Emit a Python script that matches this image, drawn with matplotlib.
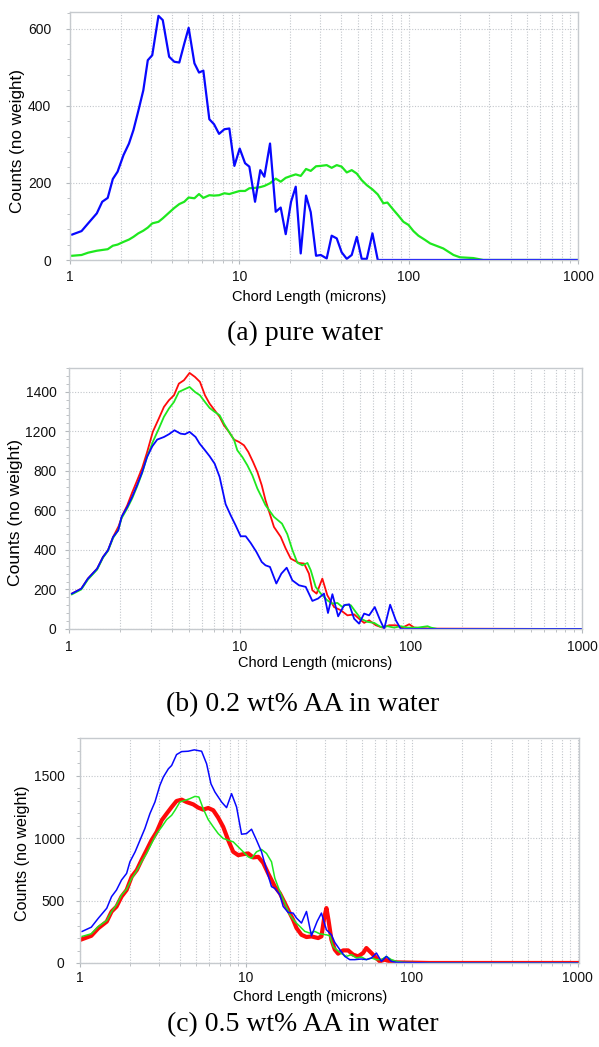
import matplotlib
matplotlib.use('Agg')
import numpy as np
import matplotlib.pyplot as plt
from matplotlib.ticker import FixedLocator, FixedFormatter, MultipleLocator, LogLocator, NullFormatter

plt.rcParams['font.family'] = ['Liberation Sans', 'DejaVu Sans']

# ---------------- (a) pure water ----------------
x_a_blue = [1.03, 1.17, 1.28, 1.44, 1.55, 1.67, 1.79, 1.91, 2.07, 2.23, 2.37, 2.53, 2.71, 2.88, 3.06,
            3.33, 3.53, 3.85, 4.13, 4.42, 4.73, 5.02, 5.43, 5.78, 6.13, 6.65, 7.09, 7.59, 8.16, 8.73,
            9.35, 10.05, 10.81, 11.46, 12.38, 13.3, 14.05, 15.18, 16.4, 17.55, 18.79, 20.2, 21.53, 23.04, 24.77,
            26.4, 28.38, 30.25, 32.8, 35.1, 37.6, 40.2, 43.1, 46.1, 49.4, 52.8, 56.6, 61.1, 65.7, 1000]
y_a_blue = [66, 75, 95, 121, 151, 161, 210, 229, 272, 302, 337, 386, 440, 518, 531,
            633, 622, 527, 514, 512, 561, 602, 510, 486, 491, 365, 352, 327, 339, 341,
            244, 289, 251, 242, 151, 233, 216, 302, 125, 136, 67, 151, 190, 17, 167,
            124, 11, 13, 4, 63, 56, 20, 3, 13, 60, 3, 3, 69, 0, 0]

x_a_green = [1.03, 1.17, 1.28, 1.44, 1.55, 1.67, 1.79, 1.91, 2.07, 2.23, 2.37, 2.53, 2.71, 2.88, 3.06,
             3.33, 3.53, 3.85, 4.13, 4.42, 4.73, 5.02, 5.43, 5.78, 6.13, 6.65, 7.09, 7.59, 8.16, 8.73,
             9.35, 10.05, 10.81, 11.46, 12.38, 13.3, 14.05, 15.18, 16.4, 17.55, 18.79, 20.2, 21.53, 23.04, 24.77,
             26.4, 28.38, 30.25, 32.8, 35.1, 37.6, 40.2, 43.1, 46.1, 49.4, 52.8, 56.6, 61.1, 65.7,
             70.9, 74.9, 81.3, 87.0, 93.1, 99.7, 106.7, 114.2, 125, 134, 160, 184, 201, 241, 276, 1000]
y_a_green = [11, 13, 19, 24, 26, 28, 37, 40, 47, 53, 60, 69, 76, 84, 95,
             99, 108, 123, 135, 145, 151, 162, 160, 171, 161, 168, 167, 168, 173, 171,
             175, 179, 179, 186, 187, 189, 192, 199, 211, 203, 213, 218, 222, 218, 236,
             231, 243, 244, 246, 239, 246, 242, 227, 233, 224, 207, 194, 183, 170,
             147, 149, 130, 115, 99, 91, 75, 63, 52, 43, 30, 13, 7, 5, 0, 0]

# ---------------- (b) 0.2 wt% AA ----------------
x_b_blue = [1.04, 1.18, 1.29, 1.46, 1.58, 1.69, 1.81, 1.94, 2.03, 2.19, 2.34, 2.50, 2.68, 2.86, 3.07,
            3.28, 3.59, 3.84, 4.14, 4.49, 4.76, 5.07, 5.50, 5.80, 6.24, 6.64, 7.11, 7.60, 8.24, 8.82,
            9.43, 10.09, 10.8, 11.55, 12.47, 13.4, 14.1, 14.97, 16.31, 17.45, 18.75, 20.24, 22.14, 24.23, 26.5,
            28.6, 31.0, 32.7, 34.7, 37.5, 40.6, 43.5, 46.5, 49.7, 53.2, 56.9, 61.4, 66.0, 69.7, 75.5,
            81.5, 87.2, 1000]
y_b_blue = [179, 204, 255, 305, 364, 398, 465, 499, 567, 617, 668, 727, 794, 870, 924,
            958, 971, 985, 1005, 988, 985, 997, 971, 938, 904, 874, 836, 769, 631, 575,
            524, 469, 469, 435, 390, 339, 322, 314, 230, 280, 310, 246, 221, 213, 142,
            154, 179, 81, 176, 64, 120, 125, 52, 27, 78, 69, 111, 44, 1, 123,
            44, 0, 0]

x_b_red = [1.04, 1.18, 1.29, 1.46, 1.58, 1.69, 1.81, 1.95, 2.06, 2.19, 2.34, 2.50, 2.68, 2.86, 3.09,
           3.35, 3.59, 3.84, 4.11, 4.39, 4.70, 5.07, 5.45, 5.83, 6.24, 6.64, 7.11, 7.60, 8.06, 8.62,
           9.22, 9.87, 10.55, 11.19, 11.92, 12.64, 13.4, 14.1, 15.8, 17.3, 18.5, 19.8, 22.14, 23.7, 25.3,
           26.5, 28.05, 30.3, 32.4, 35.5, 38.8, 42.5, 46.5, 49.7, 53.2, 56.9, 62.3, 68.1, 74.6, 81.5,
           89.2, 97.6, 104.4, 130.9, 1000]
y_b_red = [179, 204, 255, 305, 364, 398, 465, 520, 578, 625, 690, 750, 815, 893, 997,
           1064, 1123, 1157, 1182, 1241, 1258, 1295, 1275, 1250, 1182, 1140, 1106, 1073, 1030, 997,
           958, 946, 929, 895, 845, 794, 727, 651, 516, 466, 407, 356, 334, 331, 280,
           196, 179, 255, 171, 111, 95, 69, 74, 52, 31, 44, 19, 7, 19, 19,
           7, 24, 7, 2, 0]

x_b_green = [1.04, 1.18, 1.29, 1.46, 1.58, 1.69, 1.81, 1.94, 2.03, 2.19, 2.34, 2.50, 2.68, 2.86, 3.09,
             3.35, 3.59, 3.84, 4.11, 4.39, 4.70, 5.07, 5.45, 5.83, 6.24, 6.64, 7.11, 7.60, 8.06, 8.62,
             9.22, 9.64, 10.32, 11.04, 11.81, 12.64, 13.52, 14.1, 15.8, 17.6, 18.9, 20.24, 21.65, 23.16, 24.8,
             25.93, 27.7, 29.68, 32.4, 34.7, 37.1, 39.7, 41.5, 44.5, 47.5, 50.9, 55.7, 60.9, 66.6, 72.9,
             79.7, 87.3, 95.5, 109.3, 125, 130.9, 143, 1000]
y_b_green = [175, 200, 250, 300, 360, 395, 460, 500, 560, 610, 660, 720, 790, 870, 946,
             1013, 1073, 1115, 1148, 1199, 1211, 1224, 1199, 1182, 1148, 1118, 1098, 1081, 1039, 997,
             958, 904, 870, 828, 777, 710, 659, 626, 567, 533, 480, 400, 335, 322, 334,
             297, 213, 179, 145, 128, 132, 111, 123, 120, 86, 52, 36, 31, 10, 14,
             7, 14, 7, 7, 14, 7, 0, 0]
# tick labels exactly as printed on the original panel (b)
yticks_b = [0, 200, 400, 600, 800, 1000, 1200]
ylabels_b = ['0', '200', '400', '600', '800', '1200', '1400']

# ---------------- (c) 0.5 wt% AA ----------------
x_c_blue = [1.03, 1.17, 1.29, 1.45, 1.55, 1.66, 1.78, 1.91, 2.00, 2.15, 2.30, 2.46, 2.64, 2.83, 3.03,
            3.18, 3.41, 3.57, 3.82, 4.10, 4.49, 4.89, 5.41, 5.80, 6.16, 6.51, 7.14, 7.65, 8.20, 8.79,
            9.42, 10.09, 10.82, 11.6, 12.43, 13.32, 14.28, 14.95, 16.03, 16.79, 17.99, 19.28, 20.2, 21.64, 23.2,
            24.86, 26.9, 28.56, 30.6, 32.8, 34.37, 36.85, 39.5, 42.3, 45.36, 49.76, 53.3, 57.15, 61.25, 65.66,
            70.36, 75.42, 80.8, 128, 1000]
y_c_blue = [253, 287, 359, 439, 532, 585, 665, 718, 811, 891, 984, 1077, 1197, 1290, 1423,
            1490, 1556, 1583, 1670, 1694, 1697, 1708, 1697, 1596, 1436, 1370, 1290, 1245, 1357, 1250,
            1032, 1037, 1072, 984, 891, 745, 612, 598, 546, 453, 405, 400, 360, 320, 413,
            218, 333, 400, 266, 226, 165, 107, 53, 27, 27, 32, 27, 40, 80, 13,
            53, 13, 5, 0, 0]

x_c_red = [1.03, 1.17, 1.29, 1.45, 1.55, 1.66, 1.78, 1.91, 2.05, 2.20, 2.35, 2.52, 2.70, 2.90, 3.11,
           3.33, 3.57, 3.82, 4.10, 4.39, 4.82, 5.16, 5.53, 5.93, 6.36, 6.81, 7.30, 7.83, 8.39, 8.99,
           9.64, 10.33, 11.07, 11.87, 12.72, 13.63, 14.95, 16.03, 16.79, 17.99, 19.28, 20.2, 21.64, 23.2, 24.86,
           27.28, 28.56, 29.65, 30.6, 31.47, 32.8, 34.37, 35.99, 38.58, 41.35, 44.33, 47.5, 50.9, 53.3, 55.85,
           59.86, 64.15, 68.76, 73.7, 80.8, 128, 1000]
y_c_red = [191, 218, 279, 332, 412, 452, 532, 585, 692, 745, 825, 904, 984, 1051, 1144,
           1197, 1250, 1298, 1309, 1290, 1271, 1245, 1229, 1242, 1224, 1165, 1091, 984, 891, 864,
           872, 878, 846, 851, 803, 718, 613, 559, 506, 426, 346, 280, 226, 208, 213,
           200, 213, 360, 440, 346, 186, 107, 75, 101, 101, 67, 53, 80, 120, 93,
           53, 13, 27, 13, 5, 0, 0]

x_c_green = [1.03, 1.17, 1.29, 1.45, 1.55, 1.66, 1.78, 1.91, 2.05, 2.20, 2.35, 2.52, 2.70, 2.90, 3.11,
             3.33, 3.57, 3.74, 4.00, 4.29, 4.60, 4.93, 5.21, 5.53, 5.93, 6.36, 6.81, 7.30, 7.83, 8.39,
             8.99, 9.64, 10.33, 10.82, 11.6, 12.43, 13.32, 14.28, 14.95, 16.03, 17.17, 18.41, 19.73, 21.15, 22.67,
             24.29, 26.04, 27.91, 30.6, 32.06, 33.58, 35.18, 37.7, 40.4, 43.3, 46.4, 49.76, 53.3, 57.15, 61.25,
             65.66, 70.36, 75.42, 80.8, 88.6, 128, 1000]
y_c_green = [213, 234, 293, 341, 412, 466, 545, 591, 678, 740, 811, 878, 958, 1037, 1091,
             1149, 1184, 1224, 1290, 1303, 1317, 1335, 1330, 1237, 1149, 1091, 1037, 998, 984, 971,
             931, 891, 851, 838, 891, 910, 878, 811, 680, 573, 480, 386, 333, 293, 253,
             240, 253, 234, 226, 218, 133, 107, 75, 53, 67, 40, 48, 27, 40, 27,
             27, 53, 27, 13, 5, 0, 0]

xticks = [1, 10, 100, 1000]
xticklabels = ['1', '10', '100', '1000']

BLUE = '#0808ff'
GREEN = '#1ee81e'
RED = '#ff0a0a'
GRID = '#c2c6cb'

W, H = 599, 1047
fig = plt.figure(figsize=(W / 100, H / 100), dpi=100)


def px_axes(l, t, r, b):
    return fig.add_axes([l / W, 1 - b / H, (r - l) / W, (b - t) / H])


def style(ax, ymax, yticks, ylabels, yminor, ypad, xpad, xmax=1000):
    ax.set_xscale('log')
    ax.set_xlim(1, xmax)
    ax.set_ylim(0, ymax)
    ax.xaxis.set_major_locator(FixedLocator(xticks))
    ax.xaxis.set_major_formatter(FixedFormatter(xticklabels))
    ax.xaxis.set_minor_locator(LogLocator(base=10, subs=np.arange(2, 10)))
    ax.xaxis.set_minor_formatter(NullFormatter())
    ax.yaxis.set_major_locator(FixedLocator(yticks))
    ax.yaxis.set_major_formatter(FixedFormatter(ylabels))
    ax.yaxis.set_minor_locator(MultipleLocator(yminor))
    ax.grid(which='major', axis='both', color=GRID, ls=(0, (1, 1.5)), lw=0.8)
    ax.grid(which='minor', axis='x', color=GRID, ls=(0, (1, 1.5)), lw=0.8)
    for s in ax.spines.values():
        s.set_color('#c6cace')
        s.set_linewidth(1.0)
    ax.tick_params(which='both', color='#b4b8bc', labelsize=10, labelcolor='#111111')
    ax.tick_params(axis='y', which='major', length=3, pad=ypad)
    ax.tick_params(axis='y', which='minor', length=2)
    ax.tick_params(axis='x', which='major', length=3, pad=xpad)
    ax.tick_params(axis='x', which='minor', length=2)
    ax.set_axisbelow(True)


def fig_text(xp, yp, s, **kw):
    fig.text(xp / W, 1 - yp / H, s, ha='center', va='center', **kw)


# panel (a)
axa = px_axes(70, 12, 578, 260)
style(axa, 643, [0, 200, 400, 600], ['0', '200', '400', '600'], 40, 10.5, 4)
axa.plot(x_a_green, y_a_green, color=GREEN, lw=1.6)
axa.plot(x_a_blue, y_a_blue, color=BLUE, lw=1.6)
fig_text(18, 141, 'Counts (no weight)', rotation=90, fontsize=12.3)
fig_text(309, 297, 'Chord Length (microns)', fontsize=10.5)
fig_text(305, 333, '(a) pure water', family='Liberation Serif', fontsize=20)

# panel (b)
axb = px_axes(69, 368, 582, 629)
style(axb, 1320, yticks_b, ylabels_b, 40, 6, 5)
axb.plot(x_b_red, y_b_red, color=RED, lw=1.3)
axb.plot(x_b_green, y_b_green, color=GREEN, lw=1.3)
axb.plot(x_b_blue, y_b_blue, color=BLUE, lw=1.3)
fig_text(16, 512, 'Counts (no weight)', rotation=90, fontsize=12.6)
fig_text(315, 663, 'Chord Length (microns)', fontsize=10.5)
fig_text(303, 705, '(b) 0.2 wt% AA in water', family='Liberation Serif', fontsize=20)

# panel (c)
axc = px_axes(80, 738, 579, 963)
style(axc, 1803, [0, 500, 1000, 1500], ['0', '500', '1000', '1500'], 100, 8, 3, xmax=1020)
axc.plot(x_c_red, y_c_red, color=RED, lw=3.0)
axc.plot(x_c_green, y_c_green, color=GREEN, lw=1.1)
axc.plot(x_c_blue, y_c_blue, color=BLUE, lw=1.1)
fig_text(23, 853, 'Counts (no weight)', rotation=90, fontsize=11.6)
fig_text(310, 997, 'Chord Length (microns)', fontsize=10.5)
fig_text(303, 1025, '(c) 0.5 wt% AA in water', family='Liberation Serif', fontsize=20)

fig.savefig('out.png', dpi=100)
